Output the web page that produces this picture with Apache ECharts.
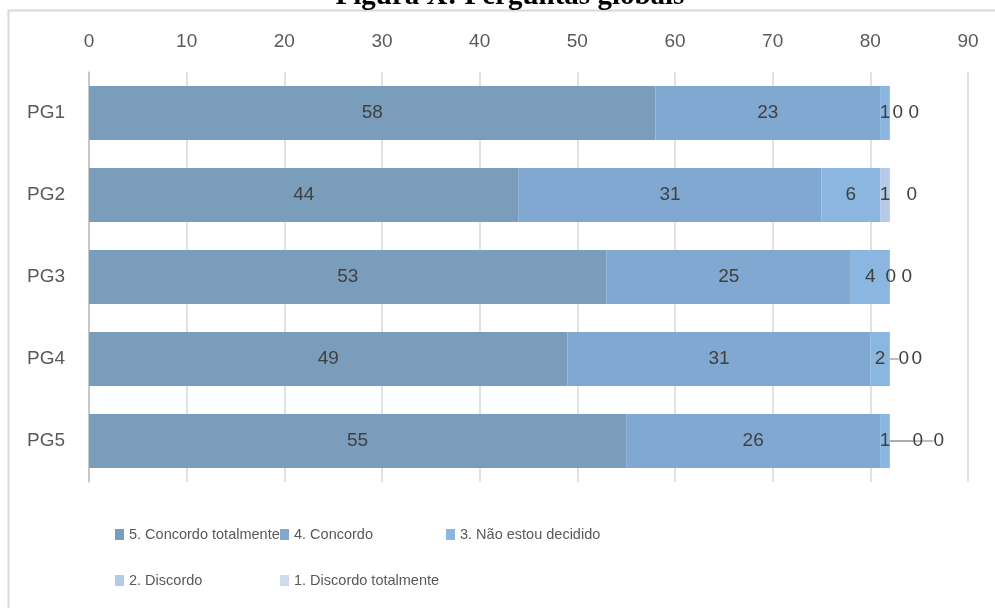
<!DOCTYPE html>
<html>
<head>
<meta charset="utf-8">
<script src="https://cdn.jsdelivr.net/npm/echarts@6/dist/echarts.min.js"></script>
<style>
  html, body { margin: 0; padding: 0; background: #fff; }
  #chart { width: 995px; height: 608px; }
</style>
</head>
<body>
<div id="chart"></div>
<script>
// Survey answers per global question (number of respondents)
const categories = ['PG1', 'PG2', 'PG3', 'PG4', 'PG5'];
const seriesNames = [
  '5. Concordo totalmente',
  '4. Concordo',
  '3. Não estou decidido',
  '2. Discordo',
  '1. Discordo totalmente'
];
const concordoTotalmente = [58, 44, 53, 49, 55];
const concordo = [23, 31, 25, 31, 26];
const naoDecidido = [1, 6, 4, 2, 1];
const discordo = [0, 1, 0, 0, 0];
const discordoTotalmente = [0, 0, 0, 0, 0];
const xTicks = { min: 0, max: 90, step: 10 };

const seriesValues = [concordoTotalmente, concordo, naoDecidido, discordo, discordoTotalmente];
const colors = ['#7a9dbc', '#80a8d0', '#8ab6e0', '#b5cae8', '#cfdcef'];

// horizontal nudges (px) for labels of thin/empty segments at the bar ends
const labelNudge = [
  [0, 0, 0, 0, 0],
  [0, 0, 0, 0, 0],
  [0, 0, 0, 0, 0],
  [8, 0, 1, 14, 28],
  [24, 22, 17, 27, 49]
];
// which of those nudged labels get a guide line back to the bar
const withGuide = [
  [0, 0, 0, 0, 0],
  [0, 0, 0, 0, 0],
  [0, 0, 0, 0, 0],
  [0, 0, 0, 1, 1],
  [0, 0, 0, 0, 1]
];

const FONT = '"Liberation Sans", Arial, sans-serif';

const chart = echarts.init(document.getElementById('chart'), null, { renderer: 'canvas' });

const series = seriesNames.map((name, si) => ({
  name: name,
  type: 'bar',
  stack: 'total',
  barWidth: 54,
  itemStyle: { color: colors[si] },
  label: {
    show: true,
    position: 'inside',
    color: '#404040',
    fontSize: 19,
    fontFamily: FONT
  },
  labelLayout: function (p) {
    const dx = labelNudge[si][p.dataIndex];
    return dx ? { dx: dx } : {};
  },
  data: seriesValues[si].map((v, di) => ({
    value: v,
    labelLine: {
      show: !!withGuide[si][di],
      lineStyle: { color: '#a6a6a6', width: 1.5 }
    }
  }))
}));

const legendSlots = [
  { left: 115, top: 527 },
  { left: 280, top: 527 },
  { left: 446, top: 527 },
  { left: 115, top: 573 },
  { left: 280, top: 573 }
];

const legends = seriesNames.map((name, i) => ({
  data: [name],
  left: legendSlots[i].left,
  top: legendSlots[i].top,
  icon: 'rect',
  itemWidth: 9,
  itemHeight: 11,
  padding: 0,
  selectedMode: false,
  textStyle: {
    color: '#595959',
    fontSize: 14.5,
    fontFamily: FONT
  }
}));

chart.setOption({
  animation: false,
  backgroundColor: '#ffffff',
  color: colors,
  grid: { left: 89, right: 27, top: 72, height: 410, containLabel: false },
  xAxis: {
    type: 'value',
    position: 'top',
    min: xTicks.min,
    max: xTicks.max,
    interval: xTicks.step,
    axisLine: { show: false },
    axisTick: { show: false },
    axisLabel: { color: '#595959', fontSize: 19, fontFamily: FONT, margin: 21 },
    splitLine: { lineStyle: { color: '#d9d9d9', width: 1.5 } }
  },
  yAxis: {
    type: 'category',
    data: categories,
    inverse: true,
    axisLine: { show: true, lineStyle: { color: '#bfbfbf', width: 1.5 } },
    axisTick: { show: false },
    axisLabel: { color: '#595959', fontSize: 19, fontFamily: FONT, margin: 24 }
  },
  legend: legends,
  series: series,
  graphic: [
    {
      type: 'rect',
      silent: true,
      shape: { x: 8.5, y: 10.5, width: 1100, height: 700 },
      style: { fill: 'none', stroke: '#d9d9d9', lineWidth: 2 }
    },
    {
      type: 'text',
      silent: true,
      x: 510,
      y: 11.5,
      style: {
        text: 'Figura X: Perguntas globais',
        font: 'bold 29px "Liberation Serif", serif',
        fill: '#000000',
        textAlign: 'center',
        textVerticalAlign: 'bottom'
      }
    }
  ]
});
</script>
</body>
</html>
